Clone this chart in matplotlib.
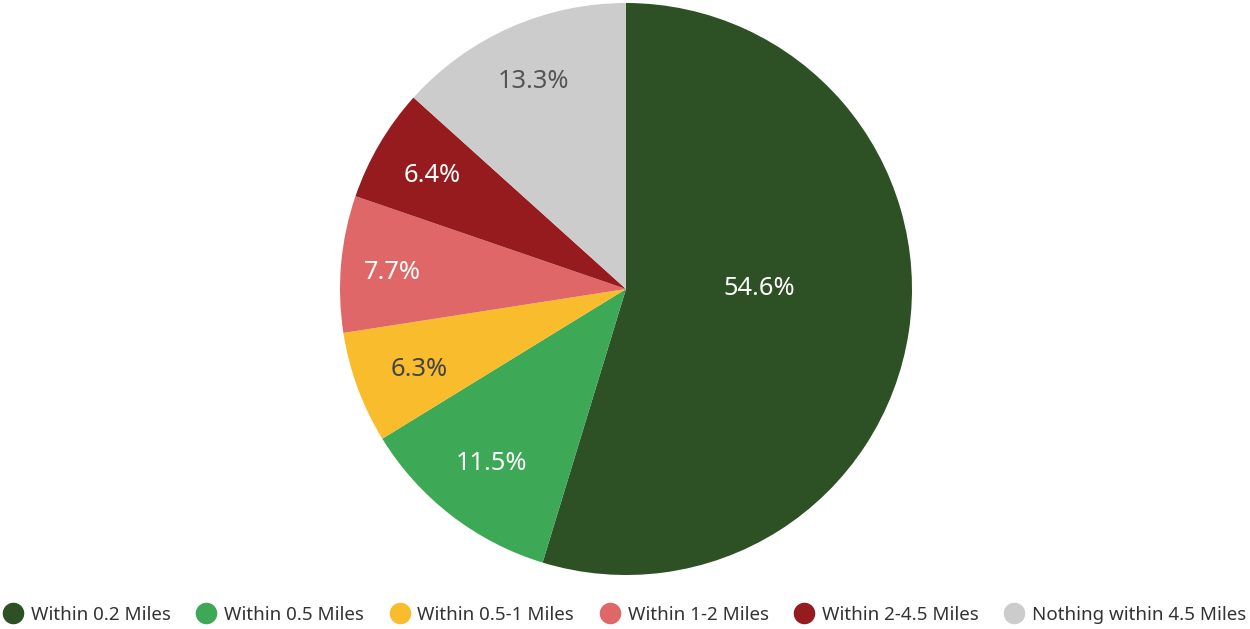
import numpy as np
import matplotlib

matplotlib.use("Agg")
import matplotlib.pyplot as plt
from matplotlib.lines import Line2D

plt.rcParams["font.family"] = ["Noto Sans", "DejaVu Sans"]

categories = ["Within 0.2 Miles", "Within 0.5 Miles", "Within 0.5-1 Miles",
              "Within 1-2 Miles", "Within 2-4.5 Miles", "Nothing within 4.5 Miles"]
values = [54.6, 11.5, 6.3, 7.7, 6.4, 13.3]
colors = ["#2d5025", "#3da856", "#f8bc2c", "#e06767", "#961b1f", "#cccccc"]
label_colors = ["white", "white", "#444444", "white", "white", "#555555"]
# label placement: distance from centre (fraction of radius) and angle shift (deg)
label_dist = [0.465, 0.77, 0.775, 0.82, 0.785, 0.795]
label_shift = [8.5, 0, 1, 1, 0, 0]

fig = plt.figure(figsize=(12.5, 6.29), dpi=100)
ax = fig.add_axes([340 / 1250, 54 / 629, 572 / 1250, 572 / 629])

wedges, _ = ax.pie(values, colors=colors, startangle=90, counterclock=False,
                   radius=1.0, wedgeprops={"linewidth": 0})
ax.set_xlim(-1, 1)
ax.set_ylim(-1, 1)
ax.set_aspect("equal")

for w, v, c, d, s in zip(wedges, values, label_colors, label_dist, label_shift):
    ang = np.deg2rad((w.theta1 + w.theta2) / 2 + s)
    ax.text(d * np.cos(ang), d * np.sin(ang), f"{v}%", ha="center", va="center",
            color=c, fontsize=18.3)

handles = [Line2D([0], [0], marker="o", linestyle="", markersize=14.5,
                  markerfacecolor=col, markeredgecolor=col) for col in colors]
fig.legend(handles, categories, loc="center", bbox_to_anchor=(0.5, 1 - 615 / 629),
           ncol=6, frameon=False, fontsize=13.5, handletextpad=0.45,
           columnspacing=1.4, labelcolor="#333333", handlelength=1.0,
           borderaxespad=0, borderpad=0)

fig.savefig("out.png", dpi=100)
